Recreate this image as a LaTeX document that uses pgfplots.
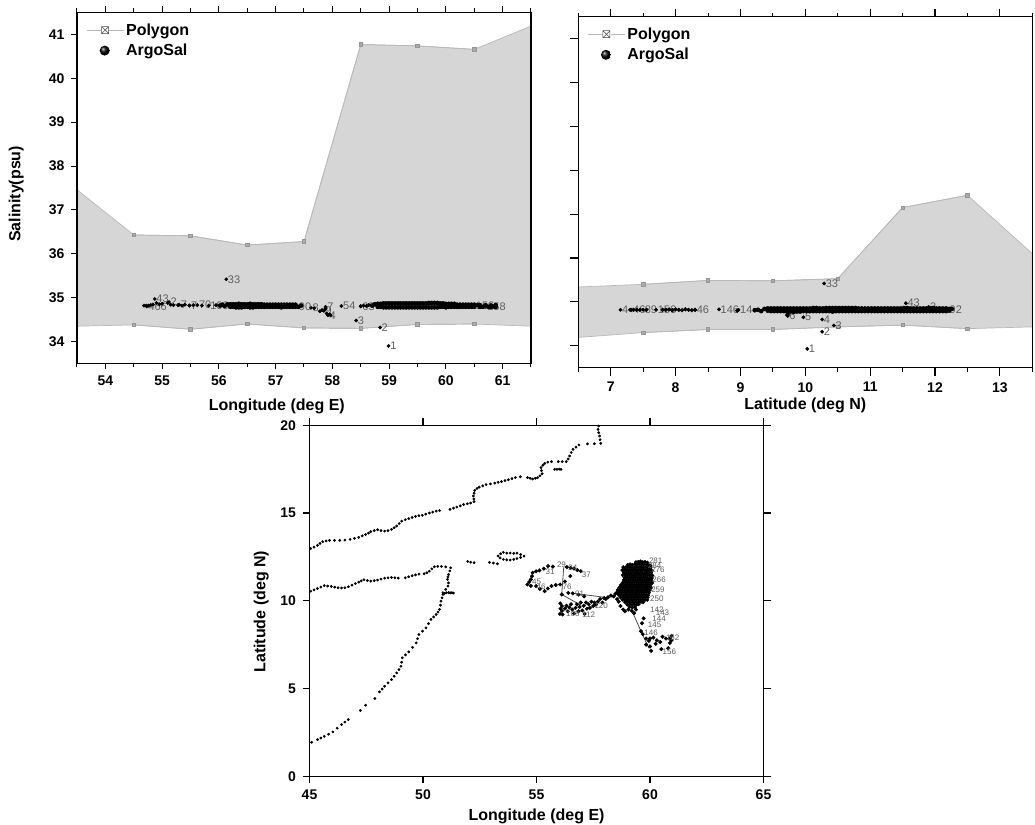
\documentclass[border=0pt]{standalone}
\usepackage{pgfplots}
\pgfplotsset{compat=1.18}
\usepackage{fontspec}
\setmainfont{Liberation Sans}
\definecolor{polyfill}{RGB}{214,214,214}
\definecolor{polyline}{RGB}{185,185,185}
\definecolor{polymark}{RGB}{150,150,150}
\definecolor{lab}{RGB}{95,95,95}
\pgfplotsset{
  panel/.style={
    scale only axis, axis on top, clip=true,
    axis line style={line width=1.5pt, black},
    major tick length=6pt, minor tick length=4pt,
    tick align=outside,
    every tick/.style={black, line width=1.1pt},
    minor tick style={black, line width=1pt},
    tick label style={font=\bfseries\fontsize{14}{14}\selectfont, /pgf/number format/assume math mode=true},
    xticklabel style={yshift=-3pt},
    yticklabel style={xshift=-3pt},
    label style={font=\bfseries\fontsize{16}{16}\selectfont},
    legend cell align=left,
    legend style={draw=none, fill=none, font=\bfseries\fontsize{16}{16}\selectfont, row sep=3.5pt, inner sep=0pt, anchor=north west},
  },
  polylegend/.style={legend image code/.code={
    \draw[polyline, line width=0.8pt] (0pt,0pt)--(37pt,0pt);
    \fill[white] (15pt,-3.5pt) rectangle (22pt,3.5pt);
    \draw[black!70, line width=0.5pt] (15pt,-3.5pt) rectangle (22pt,3.5pt) (15pt,-3.5pt)--(22pt,3.5pt) (15pt,3.5pt)--(22pt,-3.5pt);
  }},
  balllegend/.style={legend image code/.code={
    \path[draw=none, fill=none] (0pt,0pt)--(37pt,0pt);
    \shade[draw=none, ball color=black] (18pt,0pt) circle (5pt);
  }},
  labelled/.style={only marks, mark=*, mark size=1.7pt, black,
    nodes near coords, point meta=explicit symbolic,
    every node near coord/.append style={anchor=west, inner sep=1.5pt, text=lab, font=\fontsize{11}{11}\selectfont}},
  band/.style={only marks, mark=*, mark size=2.1pt, black, forget plot},
}
\begin{document}
\begin{tikzpicture}[x=1pt,y=1pt]
\useasboundingbox (0,0) rectangle (1035,824);

% ---------------- Panel 1
\begin{axis}[panel, at={(77pt,460.5pt)}, anchor=south west, width=454pt, height=351pt,
  xmin=53.5, xmax=61.5, ymin=33.5, ymax=41.5,
  xtick={54,55,56,57,58,59,60,61}, ytick={34,35,36,37,38,39,40,41},
  minor xtick={53.5,54.5,55.5,56.5,57.5,58.5,59.5,60.5,61.5},
  xtick pos=both, ytick pos=left, xticklabel pos=bottom,
  xlabel={Longitude (deg E)}, ylabel={Salinity(psu)},
  xlabel style={at={(axis description cs:0.44,-0.122)}, anchor=center},
  ylabel style={at={(axis description cs:-0.134,0.483)}, anchor=center},
  legend style={at={(axis description cs:0.02,0.975)}},
]
\addplot[fill=polyfill, draw=polyline, line width=0.7pt, forget plot] coordinates {
 (53.5,37.46)(54.5,36.43)(55.5,36.41)(56.5,36.2)(57.5,36.28)(58.5,40.77)(59.5,40.74)(60.5,40.66)(61.5,41.19)
 (61.5,34.35)(60.5,34.4)(59.5,34.39)(58.5,34.3)(57.5,34.31)(56.5,34.4)(55.5,34.28)(54.5,34.38)(53.5,34.35)} -- cycle;
\addplot[polylegend, polyline, line width=0.7pt, mark=square*, mark size=1.7pt, mark options={fill=polyfill!80!black, draw=polymark}] coordinates {
 (54.5,36.43)(55.5,36.41)(56.5,36.2)(57.5,36.28)(58.5,40.77)(59.5,40.74)(60.5,40.66)};
\addplot[polyline, line width=0.7pt, mark=square*, mark size=1.7pt, mark options={fill=polyfill!80!black, draw=polymark}, forget plot] coordinates {
 (54.5,34.38)(55.5,34.28)(56.5,34.4)(57.5,34.31)(58.5,34.3)(59.5,34.39)(60.5,34.4)};
\addplot[labelled, balllegend] table[meta=l] {
x y l
56.13 35.42 33
58.99 33.9 1
58.84 34.32 2
58.42 34.48 3
57.92 34.6 4
57.85 34.7 9
57.62 34.77 8
57.38 34.8 90
57.88 34.79 7
58.16 34.81 54
58.5 34.8 65
54.87 34.97 43
55.12 34.9 2
55.3 34.84 7
54.73 34.8 466
55.48 34.82 7
55.62 34.83 70
55.82 34.82 109
60.5 34.82 156
60.7 34.8 158
};
\addplot[band, mark size=1.7pt] coordinates {
 (54.68,34.82)(54.72,34.82)(54.76,34.82)(54.8,34.83)(54.84,34.84)(54.9,34.88)(54.95,34.85)(55.0,34.86)(55.1,34.88)(55.15,34.84)(55.2,34.83)(55.28,34.83)(55.35,34.82)(55.4,34.84)(55.48,34.82)(55.55,34.83)(55.7,34.82)(55.95,34.83)
 (57.68,34.76)(57.78,34.69)(57.82,34.72)(57.88,34.75)(57.9,34.64)(57.95,34.62)(57.97,34.6)(58.5,34.81)(58.55,34.82)(58.6,34.81)(58.64,34.83)};
\addplot[band] coordinates {
 (56.02,34.82)(56.06,34.84)(56.1,34.81)(56.15,34.85)(56.2,34.79)(56.25,34.85)(56.3,34.78)(56.35,34.86)(56.4,34.78)(56.45,34.85)(56.5,34.79)(56.55,34.86)(56.6,34.78)(56.65,34.85)(56.7,34.79)(56.75,34.85)(56.8,34.79)(56.85,34.84)(56.9,34.79)(56.95,34.84)(57.0,34.79)(57.05,34.84)(57.1,34.78)(57.15,34.84)(57.2,34.79)(57.25,34.84)(57.3,34.79)(57.35,34.84)(57.4,34.79)(57.45,34.82)
 (56.2,34.85)(56.25,34.79)(56.3,34.85)(56.35,34.78)(56.4,34.85)(56.45,34.79)(56.5,34.85)(56.55,34.78)(56.6,34.85)(56.65,34.79)(56.7,34.85)(56.75,34.79)(56.8,34.84)(56.85,34.79)(56.9,34.84)(56.95,34.79)(57.0,34.84)(57.05,34.79)(57.1,34.84)(57.15,34.79)(57.2,34.84)(57.25,34.79)(57.3,34.84)(57.35,34.79)
 (58.7,34.82)(58.75,34.85)(58.8,34.79)(58.85,34.86)(58.9,34.78)(58.95,34.87)(59.0,34.78)(59.05,34.87)(59.1,34.78)(59.15,34.87)(59.2,34.78)(59.25,34.87)(59.3,34.78)(59.35,34.87)(59.4,34.78)(59.45,34.87)(59.5,34.78)(59.55,34.87)(59.6,34.78)(59.65,34.87)(59.7,34.78)(59.75,34.88)(59.8,34.78)(59.85,34.88)(59.9,34.79)(59.95,34.87)(60.0,34.78)(60.05,34.86)(60.1,34.79)(60.15,34.86)
 (58.8,34.86)(58.85,34.79)(58.9,34.87)(58.95,34.78)(59.0,34.87)(59.05,34.78)(59.1,34.87)(59.15,34.78)(59.2,34.87)(59.25,34.78)(59.3,34.87)(59.35,34.78)(59.4,34.87)(59.45,34.78)(59.5,34.87)(59.55,34.78)(59.6,34.87)(59.65,34.78)(59.7,34.88)(59.75,34.78)(59.8,34.88)(59.85,34.78)(59.9,34.87)(59.95,34.79)(60.0,34.86)(60.05,34.79)(60.1,34.86)(60.15,34.79)
 (60.2,34.84)(60.25,34.79)(60.3,34.84)(60.35,34.79)(60.4,34.84)(60.45,34.79)(60.5,34.79)(60.55,34.83)(60.6,34.79)(60.65,34.79)(60.7,34.83)(60.75,34.79)(60.8,34.79)(60.85,34.8)(60.88,34.79)
 (60.2,34.79)(60.25,34.84)(60.3,34.79)(60.35,34.84)(60.4,34.79)(60.45,34.84)(60.5,34.84)(60.6,34.83)(60.8,34.82)(60.88,34.83)};
\addlegendentry{Polygon}
\addlegendentry{ArgoSal}
\end{axis}

% ---------------- Panel 2
\begin{axis}[panel, at={(578.3pt,456.3pt)}, anchor=south west, width=454pt, height=351pt,
  xmin=6.5, xmax=13.5, ymin=33.5, ymax=41.5,
  xtick={7,8,9,10,11,12,13}, ytick={34,35,36,37,38,39,40,41}, yticklabels={},
  minor xtick={6.5,7.5,8.5,9.5,10.5,11.5,12.5,13.5},
  xtick pos=both, ytick pos=left, xticklabel pos=bottom,
  major tick length=8pt,
  xlabel={Latitude (deg N)},
  xlabel style={at={(axis description cs:0.5,-0.108)}, anchor=center},
  legend style={at={(axis description cs:0.02,0.975)}},
]
\addplot[fill=polyfill, draw=polyline, line width=0.7pt, forget plot] coordinates {
 (6.5,35.34)(7.5,35.4)(8.5,35.49)(9.5,35.48)(10.5,35.53)(11.5,37.15)(12.5,37.43)(13.5,36.1)
 (13.5,34.43)(12.5,34.39)(11.5,34.47)(10.5,34.43)(9.5,34.37)(8.5,34.37)(7.5,34.3)(6.5,34.19)} -- cycle;
\addplot[polylegend, polyline, line width=0.7pt, mark=square*, mark size=1.7pt, mark options={fill=polyfill!80!black, draw=polymark}] coordinates {
 (7.5,35.4)(8.5,35.49)(9.5,35.48)(10.5,35.53)(11.5,37.15)(12.5,37.43)};
\addplot[polyline, line width=0.7pt, mark=square*, mark size=1.7pt, mark options={fill=polyfill!80!black, draw=polymark}, forget plot] coordinates {
 (7.5,34.3)(8.5,34.37)(9.5,34.37)(10.5,34.43)(11.5,34.47)(12.5,34.39)};
\addplot[labelled, balllegend] table[meta=l] {
x y l
10.29 35.42 33
10.03 33.93 1
10.26 34.32 2
10.44 34.46 3
10.26 34.6 4
9.97 34.65 5
9.73 34.68 6
11.55 34.97 43
7.15 34.82 4
7.32 34.82 46
7.5 34.82 89
7.7 34.82 156
8.3 34.82 46
8.67 34.83 146
8.97 34.82 14
12.2 34.82 92
11.9 34.88 2
};
\addplot[band, mark size=1.9pt] coordinates {
 (7.3,34.82)(7.35,34.82)(7.4,34.82)(7.45,34.82)(7.55,34.82)(7.8,34.82)(7.85,34.82)(7.9,34.83)(7.95,34.81)(8.0,34.83)(8.05,34.82)(8.1,34.81)(8.15,34.83)(8.2,34.82)(8.25,34.81)(8.3,34.82)(8.95,34.8)(9.73,34.72)(9.72,34.7)};
\addplot[band] coordinates {
 (9.22,34.81)(9.27,34.82)(9.32,34.79)(9.37,34.84)(9.42,34.8)(9.47,34.85)(9.52,34.79)(9.57,34.85)(9.62,34.79)(9.67,34.85)(9.72,34.78)(9.77,34.85)(9.82,34.77)(9.87,34.85)(9.92,34.78)(9.97,34.85)(10.02,34.79)(10.07,34.85)(10.12,34.79)(10.17,34.86)(10.22,34.79)(10.27,34.85)(10.32,34.79)(10.37,34.86)(10.42,34.78)(10.47,34.86)(10.52,34.79)(10.57,34.86)(10.62,34.79)(10.67,34.86)(10.72,34.79)(10.77,34.86)(10.82,34.79)(10.87,34.85)(10.92,34.79)(10.97,34.85)(11.02,34.79)(11.07,34.85)(11.12,34.79)(11.17,34.85)(11.22,34.79)(11.27,34.85)(11.32,34.79)(11.37,34.85)(11.42,34.79)(11.47,34.85)(11.52,34.79)(11.57,34.86)(11.62,34.79)(11.67,34.85)(11.72,34.79)(11.77,34.85)(11.82,34.79)(11.87,34.85)(11.92,34.79)(11.97,34.86)(12.02,34.79)(12.07,34.85)(12.12,34.79)(12.17,34.85)(12.22,34.8)(12.26,34.84)
 (9.42,34.85)(9.47,34.79)(9.52,34.85)(9.57,34.79)(9.62,34.85)(9.67,34.79)(9.72,34.85)(9.77,34.78)(9.82,34.85)(9.87,34.78)(9.92,34.85)(9.97,34.79)(10.02,34.85)(10.07,34.79)(10.12,34.86)(10.17,34.79)(10.22,34.85)(10.27,34.79)(10.32,34.86)(10.37,34.79)(10.42,34.86)(10.47,34.79)(10.52,34.86)(10.57,34.79)(10.62,34.86)(10.67,34.79)(10.72,34.86)(10.77,34.79)(10.82,34.85)(10.87,34.79)(10.92,34.85)(10.97,34.79)(11.02,34.85)(11.07,34.79)(11.12,34.85)(11.17,34.79)(11.22,34.85)(11.27,34.79)(11.32,34.85)(11.37,34.79)(11.42,34.85)(11.47,34.79)(11.52,34.86)(11.57,34.79)(11.62,34.85)(11.67,34.79)(11.72,34.85)(11.77,34.79)(11.82,34.85)(11.87,34.79)(11.92,34.86)(11.97,34.79)(12.02,34.85)(12.07,34.79)(12.12,34.85)(12.17,34.79)(12.22,34.84)};
\addlegendentry{Polygon}
\addlegendentry{ArgoSal}
\end{axis}

% ---------------- Panel 3
\begin{axis}[panel, at={(309.5pt,47.7pt)}, anchor=south west, width=454pt, height=351pt,
  xmin=45, xmax=65, ymin=0, ymax=20,
  xtick={45,50,55,60,65}, ytick={0,5,10,15,20},
  major tick length=7pt,
  xtick pos=both, ytick pos=both, xticklabel pos=bottom, yticklabel pos=left,
  xlabel={Longitude (deg E)}, ylabel={Latitude (deg N)},
  xlabel style={at={(axis description cs:0.5,-0.113)}, anchor=center},
  ylabel style={at={(axis description cs:-0.106,0.469)}, anchor=center},
]
% coast lines
\addplot[only marks, mark=*, mark size=1.2pt, black] coordinates {
 (45.05,12.98)(45.2,13.06)(45.35,13.16)(45.46,13.27)(45.58,13.37)(45.73,13.41)(45.88,13.44)(46.1,13.44)(46.33,13.44)(46.56,13.46)(46.79,13.5)(46.98,13.56)(47.17,13.61)(47.32,13.7)(47.47,13.78)(47.6,13.86)(47.7,13.94)(47.85,14.0)(48.0,14.05)(48.15,14.0)(48.31,13.97)(48.46,14.0)(48.61,14.07)(48.73,14.16)(48.84,14.26)(48.95,14.4)(49.06,14.54)(49.22,14.62)(49.37,14.68)(49.52,14.75)(49.67,14.81)(49.82,14.85)(49.97,14.87)(50.12,14.94)(50.28,15.0)(50.43,15.05)(50.58,15.11)(50.73,15.14)(51.19,15.21)(51.34,15.28)(51.49,15.34)(51.64,15.41)(51.79,15.49)(51.95,15.53)(52.1,15.57)(52.25,15.65)(52.24,15.8)(52.22,15.97)(52.25,16.13)(52.28,16.29)(52.38,16.4)(52.48,16.48)(52.63,16.55)(52.78,16.62)(52.97,16.66)(53.16,16.71)(53.31,16.75)(53.46,16.79)(53.61,16.85)(53.76,16.9)(53.92,16.96)(54.07,17.02)(54.29,17.07)(54.6,17.02)(54.72,16.98)(54.83,16.94)(54.95,16.98)(55.05,17.02)(55.15,17.12)(55.25,17.24)(55.22,17.42)(55.2,17.59)(55.28,17.72)(55.36,17.83)(55.5,17.9)(55.66,17.93)(55.96,17.93)(56.13,17.93)(56.31,17.93)(56.39,18.08)(56.46,18.25)(56.53,18.45)(56.61,18.63)(56.74,18.76)(56.87,18.88)(57.25,18.94)(57.55,18.95)(57.83,18.97)(57.8,19.18)(57.78,19.39)(57.74,19.58)(57.71,19.77)(57.74,19.96)
 (55.8,17.49)(55.9,17.49)(56.0,17.5)(56.08,17.49)
 (45.05,10.55)(45.2,10.62)(45.35,10.7)(45.5,10.78)(45.65,10.86)(45.8,10.84)(45.96,10.82)(46.11,10.78)(46.26,10.74)(46.41,10.73)(46.56,10.74)(46.71,10.8)(46.87,10.89)(47.02,10.98)(47.17,11.06)(47.28,11.13)(47.4,11.2)(47.55,11.16)(47.7,11.12)(47.85,11.15)(48.0,11.18)(48.15,11.24)(48.31,11.29)(48.46,11.31)(48.61,11.33)(48.76,11.31)(48.91,11.29)(49.22,11.31)(49.37,11.37)(49.52,11.43)(49.67,11.48)(49.82,11.52)(50.05,11.54)(50.17,11.6)(50.28,11.69)(50.39,11.82)(50.5,11.94)(50.65,11.96)(50.81,11.96)(51.0,11.93)(51.22,11.88)(51.18,11.7)(51.13,11.5)(51.1,11.36)(51.08,11.22)(51.12,11.02)(51.1,10.84)(51.0,10.65)(50.88,10.46)
 (51.34,10.44)(51.27,10.46)(51.2,10.45)(51.13,10.47)(51.03,10.46)(50.95,10.42)(50.88,10.36)(50.84,10.17)(50.79,9.98)(50.77,9.75)(50.73,9.51)(50.66,9.36)(50.58,9.22)(50.47,9.08)(50.35,8.94)(50.24,8.7)(50.13,8.46)(49.98,8.27)(49.82,8.08)(49.76,7.84)(49.7,7.6)(49.54,7.35)(49.37,7.09)(49.23,6.92)(49.09,6.75)(49.06,6.5)(49.03,6.27)(48.94,6.08)(48.84,5.89)(48.73,5.7)(48.61,5.51)(48.46,5.32)(48.31,5.13)(48.2,4.97)(48.08,4.81)(47.88,4.43)(47.47,4.05)(47.24,3.75)(46.71,3.23)(46.56,3.09)(46.41,2.95)(46.22,2.74)(46.03,2.53)(45.84,2.4)(45.65,2.28)(45.5,2.18)(45.35,2.09)(45.09,1.94)
 (51.97,12.24)(52.1,12.2)(52.25,12.17)(52.93,12.19)(53.1,12.15)(53.28,12.11)
 (53.31,12.55)(53.42,12.68)(53.54,12.76)(53.69,12.72)(53.84,12.72)(54.0,12.7)(54.14,12.72)(54.3,12.64)(54.45,12.55)(54.3,12.47)(54.14,12.41)(54.0,12.36)(53.84,12.32)(53.69,12.33)(53.54,12.36)(53.4,12.44)};
% track segments
\addplot[black!70, line width=0.8pt] coordinates {(56.2,11.92)(56.11,10.36)(56.95,9.75)};
\addplot[black!70, line width=0.8pt] coordinates {(56.5,10.45)(58.0,10.2)};
\addplot[black!70, line width=0.8pt] coordinates {(59.2,9.45)(59.6,8.27)(59.95,7.3)};
% float positions: left loop and lower group
\addplot[only marks, mark=*, mark size=1.8pt, black] coordinates {
 (54.6,10.93)(54.68,11.08)(54.75,11.22)(54.8,11.4)(54.83,11.6)(54.98,11.68)(55.13,11.73)(55.32,11.83)(55.51,11.98)(55.72,11.95)(56.34,11.92)(56.5,11.88)(56.65,11.84)(56.8,11.75)(56.95,11.69)
 (54.75,10.85)(54.98,10.84)(55.15,10.68)(55.36,10.55)(55.5,10.7)(55.66,10.84)(55.85,10.9)(56.04,10.93)(56.25,11.1)(56.49,11.41)(56.11,10.36)(56.4,10.45)(56.6,10.42)(56.85,10.35)(57.1,10.25)
 (56.05,9.85)(56.12,9.7)(56.06,9.55)(56.12,9.42)(56.03,9.25)(56.15,9.22)(56.25,9.55)(56.32,9.72)(56.38,9.4)(56.45,9.62)(56.52,9.8)(56.58,9.5)(56.65,9.28)(56.72,9.6)(56.78,9.8)(56.85,9.4)(56.9,9.65)(56.95,9.9)(57.02,9.45)(57.08,9.72)(57.12,9.25)(57.18,9.9)(57.22,9.55)(57.3,9.8)(57.35,9.6)(57.42,9.95)(57.5,9.7)(57.55,9.9)(57.62,9.78)(57.7,9.95)(57.8,10.1)(57.9,9.9)(57.98,10.15)(58.05,10.1)(58.15,10.2)(58.28,10.3)(58.4,10.25)(58.48,10.4)(58.55,10.1)(58.62,9.95)(58.7,9.7)(58.82,9.5)(58.9,9.4)(59.05,9.5)(59.2,9.42)(59.3,9.3)(59.38,9.5)
 (59.72,9.0)(59.65,8.72)(59.6,8.27)(59.68,8.1)(59.83,7.85)(60.0,7.85)(60.15,7.9)(60.3,7.75)(60.55,7.95)(60.95,8.0)(60.88,7.6)(60.45,7.65)(60.0,7.4)(59.83,7.5)(60.05,7.15)(60.5,7.25)(60.8,7.3)(60.7,7.85)(60.85,7.85)(60.95,7.75)(59.95,7.72)(60.25,7.55)};
% float positions: dense cluster
\addplot[only marks, mark=*, mark size=1.75pt, black] coordinates {
 (59.38,12.2)(59.48,12.22)(59.58,12.24)(59.68,12.2)(59.78,12.22)(59.88,12.18)
 (59.02,12.05)(59.12,12.08)(59.22,12.05)(59.33,12.07)(59.43,12.05)(59.53,12.08)(59.63,12.05)(59.73,12.06)(59.83,12.04)(59.93,12.06)(60.02,12.0)
 (58.82,11.92)(58.92,11.9)(59.02,11.93)(59.12,11.9)(59.22,11.92)(59.32,11.9)(59.42,11.93)(59.52,11.9)(59.62,11.92)(59.72,11.9)(59.82,11.93)(59.92,11.9)(60.02,11.88)
 (58.78,11.75)(58.88,11.77)(58.98,11.75)(59.08,11.77)(59.18,11.75)(59.28,11.77)(59.38,11.75)(59.48,11.77)(59.58,11.75)(59.68,11.77)(59.78,11.75)(59.88,11.77)(59.98,11.75)(60.08,11.72)
 (58.85,11.62)(58.95,11.6)(59.05,11.62)(59.15,11.6)(59.25,11.62)(59.35,11.6)(59.45,11.62)(59.55,11.6)(59.65,11.62)(59.75,11.6)(59.85,11.62)(59.95,11.6)(60.05,11.6)
 (58.8,11.46)(58.9,11.48)(59.0,11.46)(59.1,11.48)(59.2,11.46)(59.3,11.48)(59.4,11.46)(59.5,11.48)(59.6,11.46)(59.7,11.48)(59.8,11.46)(59.9,11.48)(60.0,11.46)(60.1,11.44)
 (58.88,11.32)(58.98,11.34)(59.08,11.32)(59.18,11.34)(59.28,11.32)(59.38,11.34)(59.48,11.32)(59.58,11.34)(59.68,11.32)(59.78,11.34)(59.88,11.32)(59.98,11.34)(60.08,11.3)
 (58.85,11.18)(58.95,11.2)(59.05,11.18)(59.15,11.2)(59.25,11.18)(59.35,11.2)(59.45,11.18)(59.55,11.2)(59.65,11.18)(59.75,11.2)(59.85,11.18)(59.95,11.2)(60.05,11.18)
 (58.8,11.04)(58.9,11.06)(59.0,11.04)(59.1,11.06)(59.2,11.04)(59.3,11.06)(59.4,11.04)(59.5,11.06)(59.6,11.04)(59.7,11.06)(59.8,11.04)(59.9,11.06)(60.0,11.04)(60.1,11.02)
 (58.72,10.9)(58.82,10.92)(58.92,10.9)(59.02,10.92)(59.12,10.9)(59.22,10.92)(59.32,10.9)(59.42,10.92)(59.52,10.9)(59.62,10.92)(59.72,10.9)(59.82,10.92)(59.92,10.9)(60.02,10.9)
 (58.65,10.76)(58.75,10.78)(58.85,10.76)(58.95,10.78)(59.05,10.76)(59.15,10.78)(59.25,10.76)(59.35,10.78)(59.45,10.76)(59.55,10.78)(59.65,10.76)(59.75,10.78)(59.85,10.76)(59.95,10.78)(60.05,10.74)
 (58.58,10.62)(58.68,10.64)(58.78,10.62)(58.88,10.64)(58.98,10.62)(59.08,10.64)(59.18,10.62)(59.28,10.64)(59.38,10.62)(59.48,10.64)(59.58,10.62)(59.68,10.64)(59.78,10.62)(59.88,10.64)(59.98,10.6)
 (58.55,10.48)(58.65,10.5)(58.75,10.48)(58.85,10.5)(58.95,10.48)(59.05,10.5)(59.15,10.48)(59.25,10.5)(59.35,10.48)(59.45,10.5)(59.55,10.48)(59.65,10.5)(59.75,10.48)(59.85,10.5)(59.95,10.46)
 (58.62,10.34)(58.72,10.36)(58.82,10.34)(58.92,10.36)(59.02,10.34)(59.12,10.36)(59.22,10.34)(59.32,10.36)(59.42,10.34)(59.52,10.36)(59.62,10.34)(59.72,10.36)(59.82,10.34)(59.92,10.32)
 (58.7,10.2)(58.8,10.22)(58.9,10.2)(59.0,10.22)(59.1,10.2)(59.2,10.22)(59.3,10.2)(59.4,10.22)(59.5,10.2)(59.6,10.22)(59.7,10.2)(59.8,10.22)(59.9,10.2)
 (58.78,10.06)(58.88,10.08)(58.98,10.06)(59.08,10.08)(59.18,10.06)(59.28,10.08)(59.38,10.06)(59.48,10.08)(59.58,10.06)(59.68,10.08)(59.78,10.06)(59.88,10.05)
 (58.9,9.92)(59.0,9.94)(59.1,9.92)(59.2,9.94)(59.3,9.92)(59.4,9.94)(59.5,9.92)(59.6,9.94)(59.7,9.92)
 (59.0,9.78)(59.1,9.8)(59.2,9.78)(59.3,9.8)(59.4,9.78)(59.5,9.8)
 (59.1,9.64)(59.22,9.62)(59.34,9.64)};
% grey labels around the track
\addplot[only marks, mark=none, nodes near coords, point meta=explicit symbolic,
  every node near coord/.append style={anchor=center, inner sep=0pt, text=lab, font=\fontsize{8}{8}\selectfont}] table[meta=l] {
x y l
60.3 9.52 142
60.55 9.32 143
60.4 8.98 144
60.2 8.66 145
60.05 8.2 146
61.0 7.9 152
60.85 7.1 156
60.25 12.3 281
60.35 11.75 276
60.4 11.2 266
60.35 10.65 259
60.2 12.0 284
60.3 10.1 250
57.2 11.5 37
55.2 10.8 46
55.0 11.1 45
55.6 11.65 31
56.1 12.05 29
56.6 11.9 24
56.35 10.8 76
56.9 10.38 91
57.3 9.2 112
57.85 9.7 120
56.6 9.25 108
};
\end{axis}
\end{tikzpicture}
\end{document}
